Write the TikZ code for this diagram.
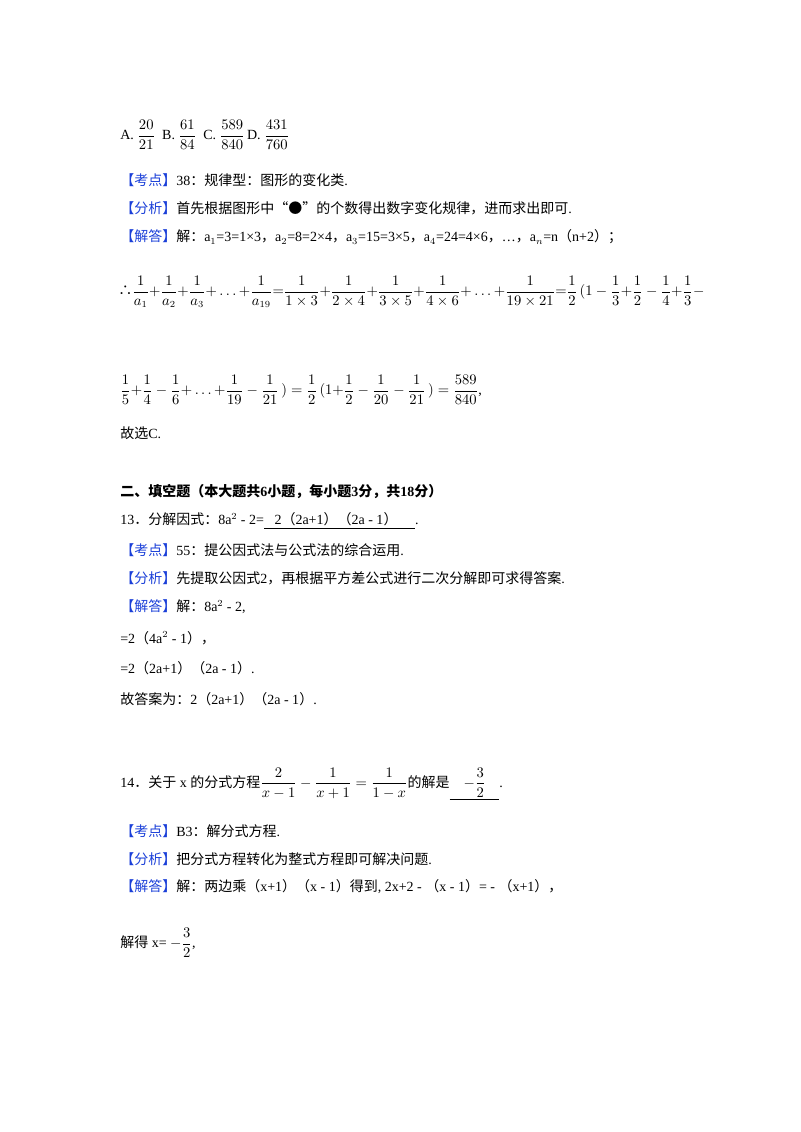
\documentclass[tikz,border=0pt]{standalone}
\usepackage{amsmath}
\usepackage{fontspec}
\setmainfont{Liberation Serif}
\newfontfamily\cjk{Noto Sans CJK SC}
\definecolor{kb}{HTML}{1A3FD8}
\newcommand{\kd}[1]{{\cjk\color{kb}【#1】}}
\newcommand{\zh}[1]{{\cjk #1}}
\begin{document}
\begin{tikzpicture}[x=0.75pt,y=-0.75pt,
  t/.style={anchor=west,inner sep=0pt,font=\fontsize{10.5}{12}\selectfont}]
\useasboundingbox (0,0) rectangle (800,1132);
\node[t] (l1) at (120,135) {A.\ $\dfrac{20}{21}$\ \ B.\ $\dfrac{61}{84}$\ \ C.\ $\dfrac{589}{840}$\,D.\ $\dfrac{431}{760}$};
\node[t] (l2) at (120,180) {\kd{考点}38\zh{：规律型：图形的变化类}.};
\node[t] (l3) at (120,208) {\kd{分析}\zh{首先根据图形中“●”的个数得出数字变化规律，进而求出即可}.};
\node[t] (l4) at (120,237) {\kd{解答}\zh{解：}a$_1$=3=1×3\zh{，}a$_2$=8=2×4\zh{，}a$_3$=15=3×5\zh{，}a$_4$=24=4×6\zh{，}…\zh{，}a$_n$=n\zh{（}n+2\zh{）；}};
\node[t] (l5) at (118,292) {\zh{∴}$\dfrac{1}{a_1}{+}\dfrac{1}{a_2}{+}\dfrac{1}{a_3}{+}\ldots{+}\dfrac{1}{a_{19}}{=}\dfrac{1}{1\times3}{+}\dfrac{1}{2\times4}{+}\dfrac{1}{3\times5}{+}\dfrac{1}{4\times6}{+}\ldots{+}\dfrac{1}{19\times21}{=}\dfrac12\,(1-\dfrac13{+}\dfrac12-\dfrac14{+}\dfrac13-$};
\node[t] (l6) at (120,390) {$\dfrac15{+}\dfrac14-\dfrac16{+}\ldots{+}\dfrac{1}{19}-\dfrac{1}{21}\,)=\dfrac12\,(1{+}\dfrac12-\dfrac{1}{20}-\dfrac{1}{21}\,)=\dfrac{589}{840}$,};
\node[t] (l7) at (120,433) {\zh{故选}C.};
\node[t] (l8) at (120,492) {\zh{\bfseries 二、填空题（本大题共}\textbf{6}\zh{\bfseries 小题，每小题}\textbf{3}\zh{\bfseries 分，共}\textbf{18}\zh{\bfseries 分）}};
\node[t] (l9) at (120,521) {13\zh{．分解因式：}8a$^2$ - 2=\underline{\ \ \ 2\zh{（}2a+1\zh{）（}2a - 1\zh{）}\ \ \ \ \ }.};
\node[t] (l10) at (120,550) {\kd{考点}55\zh{：提公因式法与公式法的综合运用}.};
\node[t] (l11) at (120,578) {\kd{分析}\zh{先提取公因式}2\zh{，再根据平方差公式进行二次分解即可求得答案}.};
\node[t] (l12) at (120,607) {\kd{解答}\zh{解：}8a$^2$ - 2,};
\node[t] (l13) at (120,638) {=2\zh{（}4a$^2$ - 1\zh{），}};
\node[t] (l14) at (120,668) {=2\zh{（}2a+1\zh{）（}2a - 1\zh{）}.};
\node[t] (l15) at (120,699) {\zh{故答案为：}2\zh{（}2a+1\zh{）（}2a - 1\zh{）}.};
\node[t] (l16) at (120,784) {14\zh{．关于} x \zh{的分式方程}$\dfrac{2}{x-1}-\dfrac{1}{x+1}=\dfrac{1}{1-x}$\zh{的解是}\underline{\ \ \ \ $-\dfrac32$\ \ \ \ }.};
\node[t] (l17) at (120,831) {\kd{考点}B3\zh{：解分式方程}.};
\node[t] (l18) at (120,859) {\kd{分析}\zh{把分式方程转化为整式方程即可解决问题}.};
\node[t] (l19) at (120,887) {\kd{解答}\zh{解：两边乘（}x+1\zh{）（}x - 1\zh{）得到}, 2x+2 - \zh{（}x - 1\zh{）}= - \zh{（}x+1\zh{），}};
\node[t] (l20) at (120,943) {\zh{解得} x= $-\dfrac32$,};
\end{tikzpicture}
\end{document}
